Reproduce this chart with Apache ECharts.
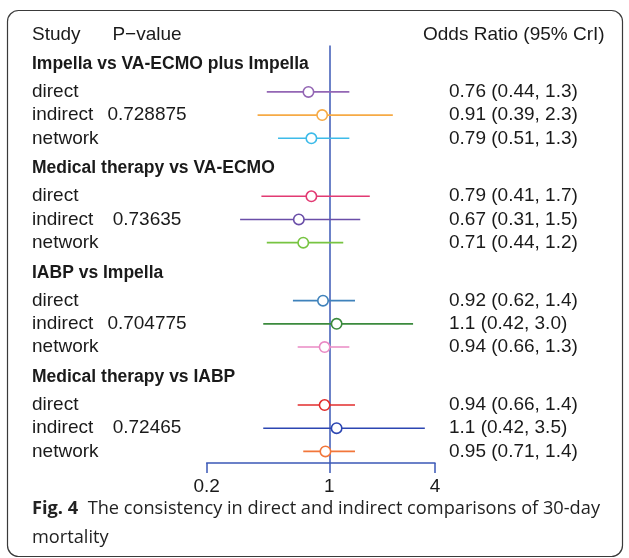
<!DOCTYPE html>
<html>
<head>
<meta charset="utf-8">
<script src="https://cdn.jsdelivr.net/npm/echarts@6/dist/echarts.min.js"></script>
<style>
html,body{margin:0;padding:0;background:#fff;}
#chart{width:629px;height:558px;}
</style>
</head>
<body>
<div id="chart"></div>
<script>
// ---------- data ----------
const comparisons = ['Impella vs VA-ECMO plus Impella', 'Medical therapy vs VA-ECMO', 'IABP vs Impella', 'Medical therapy vs IABP'];
const studies = ['direct', 'indirect', 'network'];
const pValues = ['0.728875', '0.73635', '0.704775', '0.72465'];
const orMean = [[0.76, 0.91, 0.79], [0.79, 0.67, 0.71], [0.92, 1.1, 0.94], [0.94, 1.1, 0.95]];
const orLow  = [[0.44, 0.39, 0.51], [0.41, 0.31, 0.44], [0.62, 0.42, 0.66], [0.66, 0.42, 0.71]];
const orHigh = [[1.3, 2.3, 1.3], [1.7, 1.5, 1.2], [1.4, 3.0, 1.3], [1.4, 3.5, 1.4]];
const xTicks = [0.2, 1, 4];
const headerStudy = 'Study';
const headerP = 'P\u2212value';
const headerOR = 'Odds Ratio (95% CrI)';
const captionBold = 'Fig. 4';
const captionLine1 = 'The consistency in direct and indirect comparisons of 30-day';
const captionLine2 = 'mortality';

// ---------- styles ----------
const rowColors = [
  ['#9366b4', '#f6aa45', '#3dbbe9'],
  ['#e23a73', '#6a4ea8', '#77c441'],
  ['#3f82bb', '#3b8a3d', '#ea8ac4'],
  ['#e22d2d', '#2c46b2', '#f2763a']
];
const axisBlue = '#3b58b6';
const txt = '#1a1a1a';
const F = "'Liberation Sans', Arial, Helvetica, sans-serif";
const fontN = '19px ' + F;
const fontB = 'bold 17.5px ' + F;

// ---------- layout rows (row units) ----------
const groupStep = 4.5, headOffset = -1.2, headerRow = -2.45;
const ciData = [];
const textRows = [{ y: headerRow, items: [
  { text: headerStudy, x: 32, align: 'left', font: fontN },
  { text: headerP, x: 147, align: 'center', font: fontN },
  { text: headerOR, x: 423, align: 'left', font: fontN }
]}];
comparisons.forEach((c, g) => {
  const base = g * groupStep;
  textRows.push({ y: base + headOffset, items: [{ text: c, x: 32, align: 'left', font: fontB }] });
  studies.forEach((s, i) => {
    const y = base + i;
    ciData.push({ value: [orMean[g][i], y, orLow[g][i], orHigh[g][i]], color: rowColors[g][i] });
    const items = [{ text: s, x: 32, align: 'left', font: fontN }];
    if (s === 'indirect') items.push({ text: pValues[g], x: 147, align: 'center', font: fontN });
    items.push({ text: orMean[g][i].toPrecision(2) + ' (' + orLow[g][i].toPrecision(2) + ', ' + orHigh[g][i].toPrecision(2) + ')', x: 449, align: 'left', font: fontN });
    textRows.push({ y, items });
  });
});

// caption scale to fit measured width
const capFont = "17.5px 'Open Sans', 'Noto Sans', sans-serif";
const capFontB = "bold 17.5px 'Open Sans', 'Noto Sans', sans-serif";
const cv = document.createElement('canvas').getContext('2d');
cv.font = capFontB; const wB = cv.measureText(captionBold + '  ').width;
cv.font = capFont; const wT = cv.measureText(captionLine1).width;
const capScale = 568 / (wB + wT);

const chart = echarts.init(document.getElementById('chart'), null, { renderer: 'canvas' });
chart.setOption({
  animation: false,
  backgroundColor: '#fff',
  grid: { left: 206.7, right: 194, top: 45.5, bottom: 95, containLabel: false },
  xAxis: {
    type: 'log', logBase: 10, min: 0.2, max: 4, position: 'bottom',
    axisLine: { show: true, onZero: false, lineStyle: { color: axisBlue, width: 1.5 } },
    axisTick: { show: true, customValues: xTicks, length: 10, lineStyle: { color: axisBlue, width: 1.5 } },
    axisLabel: { show: true, customValues: xTicks, margin: 14, color: txt, fontSize: 19, fontFamily: F, formatter: v => String(+v.toPrecision(3)) },
    splitLine: { show: false }, minorTick: { show: false }
  },
  yAxis: { type: 'value', inverse: true, min: -2, max: 16, show: false },
  graphic: [
    { type: 'rect', shape: { x: 7.5, y: 10.5, width: 615, height: 546, r: 11 }, style: { fill: 'none', stroke: '#3a3a3a', lineWidth: 1.2 }, z: 100 },
    { type: 'text', left: 32, top: 500, scaleX: capScale, style: {
        text: '{b|' + captionBold + '}  ' + captionLine1, font: capFont, fill: '#222',
        rich: { b: { font: capFontB, fill: '#222' } } } },
    { type: 'text', left: 32, top: 529, scaleX: capScale, style: { text: captionLine2, font: capFont, fill: '#222' } }
  ],
  series: [
    {
      type: 'custom', coordinateSystem: 'cartesian2d', clip: false, z: 2,
      data: ciData.map(d => d.value),
      renderItem: (params, api) => {
        const c = ciData[params.dataIndex].color;
        const y = api.value(1);
        const p0 = api.coord([api.value(2), y]);
        const p1 = api.coord([api.value(3), y]);
        const pm = api.coord([api.value(0), y]);
        return { type: 'group', children: [
          { type: 'line', shape: { x1: p0[0], y1: p0[1], x2: p1[0], y2: p1[1] }, style: { stroke: c, lineWidth: 1.6 } },
          { type: 'circle', z2: 10, shape: { cx: pm[0], cy: pm[1], r: 5.2 }, style: { fill: '#fff', stroke: c, lineWidth: 1.6 } }
        ]};
      },
      markLine: { silent: true, symbol: 'none', z: 1, label: { show: false },
        lineStyle: { color: axisBlue, width: 1.5, type: 'solid' }, data: [{ xAxis: 1 }] }
    },
    {
      type: 'custom', coordinateSystem: 'cartesian2d', clip: false, silent: true,
      data: textRows.map(t => [1, t.y]),
      renderItem: (params, api) => {
        const t = textRows[params.dataIndex];
        const y = api.coord([1, api.value(1)])[1];
        return { type: 'group', children: t.items.map(it => ({
          type: 'text', style: { text: it.text, x: it.x, y: y, font: it.font, fill: txt, textAlign: it.align, textVerticalAlign: 'middle' }
        }))};
      }
    }
  ]
});
</script>
</body>
</html>
